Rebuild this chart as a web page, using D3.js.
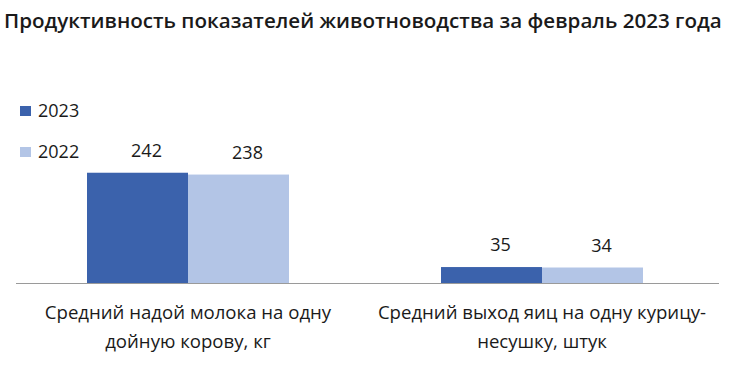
<!DOCTYPE html>
<html>
<head>
<meta charset="utf-8">
<script src="https://cdn.jsdelivr.net/npm/d3@7"></script>
<style>
  html, body { margin: 0; padding: 0; background: #fff; }
  svg { display: block; }
  text { font-family: "Open Sans", sans-serif; fill: #1a1a1a; }
</style>
</head>
<body>
<svg id="chart" width="748" height="381"></svg>
<script>
const title = "Продуктивность показателей животноводства за февраль 2023 года";
const categories = [
  ["Средний надой молока на одну", "дойную корову, кг"],
  ["Средний выход яиц на одну курицу-", "несушку, штук"]
];
const seriesNames = ["2023", "2022"];
const values2023 = [242, 35];
const values2022 = [238, 34];
const colors = ["#3B62AC", "#B3C5E6"];

const svg = d3.select("#chart");
const axisY = 283, axisLeft = 16, axisRight = 719;

svg.append("text")
  .attr("x", 4).attr("y", 28)
  .attr("font-size", 20.6).attr("font-weight", 600)
  .text(title);

const catKeys = categories.map((c, i) => i);
const p = 0.4294;
const x0 = d3.scaleBand().domain(catKeys).range([11, 719]).paddingInner(p).paddingOuter(p / 2);
const x1 = d3.scaleBand().domain(seriesNames).range([0, x0.bandwidth()]);
const y = d3.scaleLinear().domain([0, 300]).range([axisY, axisY - 136.7]);

const data = catKeys.map(i => ({ i, vals: [values2023[i], values2022[i]] }));

const groups = svg.selectAll("g.grp").data(data).join("g")
  .attr("class", "grp")
  .attr("transform", d => `translate(${x0(d.i)},0)`);

groups.selectAll("rect").data(d => d.vals.map((v, k) => ({ v, k }))).join("rect")
  .attr("x", d => x1(seriesNames[d.k]))
  .attr("y", d => y(d.v))
  .attr("width", x1.bandwidth())
  .attr("height", d => y(0) - y(d.v))
  .attr("fill", d => colors[d.k]);

groups.selectAll("text.val").data(d => d.vals.map((v, k) => ({ v, k }))).join("text")
  .attr("class", "val")
  .attr("x", d => x1(seriesNames[d.k]) + x1.bandwidth() / 2 + 9)
  .attr("y", d => y(d.v) - 16)
  .attr("text-anchor", "middle")
  .attr("font-size", 18)
  .text(d => d.v);

// axis line
svg.append("line")
  .attr("x1", axisLeft).attr("x2", axisRight)
  .attr("y1", axisY + 0.5).attr("y2", axisY + 0.5)
  .attr("stroke", "#9a9a9a").attr("stroke-width", 1.2);

// category labels
const catLabels = svg.selectAll("text.cat").data(categories).join("text")
  .attr("class", "cat")
  .attr("text-anchor", "middle")
  .attr("font-size", 18.6);
catLabels.each(function(lines, i) {
  const t = d3.select(this);
  lines.forEach((ln, j) => {
    t.append("tspan")
      .attr("x", x0(i) + x0.bandwidth() / 2)
      .attr("y", 319 + j * 28.5)
      .text(ln);
  });
});

// legend
const leg = svg.selectAll("g.leg").data(seriesNames).join("g")
  .attr("class", "leg")
  .attr("transform", (d, k) => `translate(20,${106 + k * 41})`);
leg.append("rect").attr("width", 11).attr("height", 10).attr("fill", (d, k) => colors[k]);
leg.append("text").attr("x", 18).attr("y", 10.5).attr("font-size", 18).text(d => d);
</script>
</body>
</html>
